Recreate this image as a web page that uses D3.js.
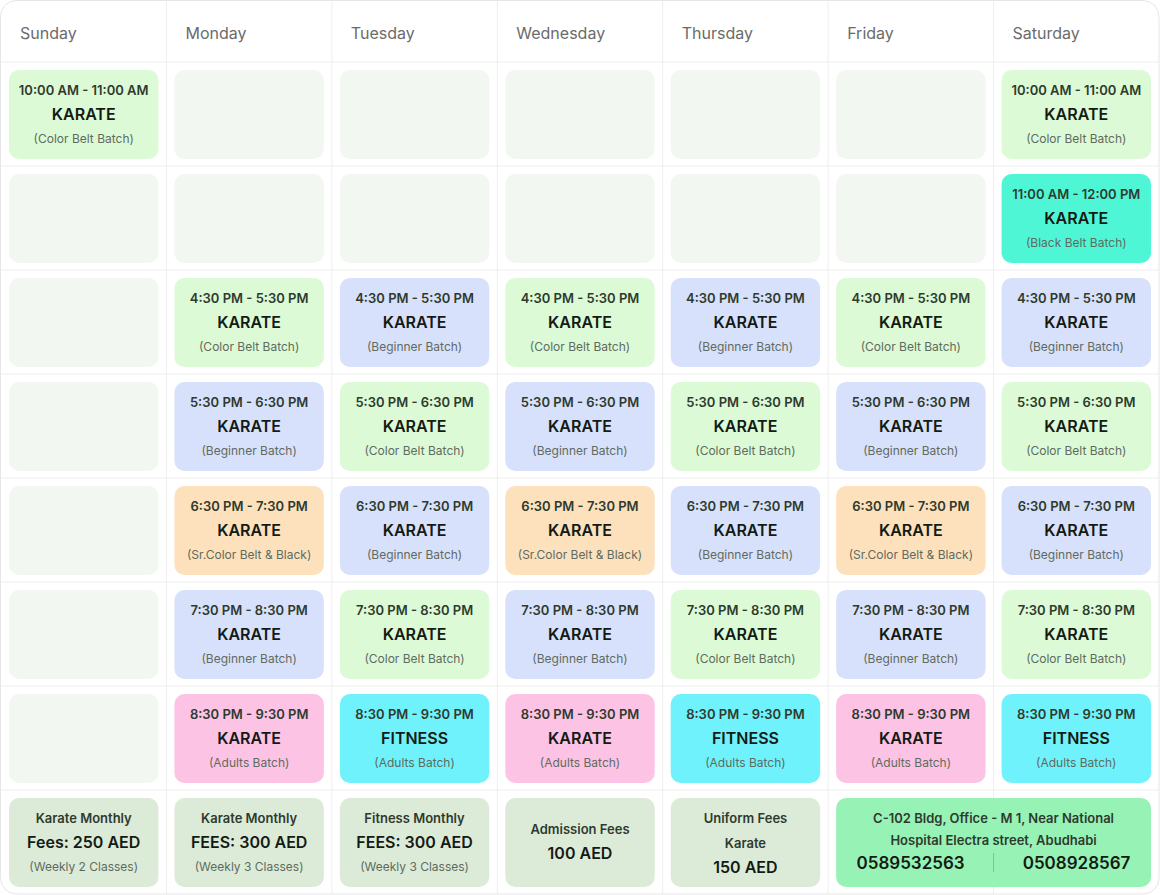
<!DOCTYPE html>
<html lang="en">
<head>
<meta charset="utf-8">
<title>Timetable</title>
<script src="https://d3js.org/d3.v7.min.js"></script>
<style>
  body { margin: 0; background: #fff; font-family: Inter, "Noto Sans", sans-serif; }
</style>
</head>
<body>
<script>
const days = ["Sunday", "Monday", "Tuesday", "Wednesday", "Thursday", "Friday", "Saturday"];
const times = ["10:00 AM - 11:00 AM", "11:00 AM - 12:00 PM", "4:30 PM - 5:30 PM", "5:30 PM - 6:30 PM",
               "6:30 PM - 7:30 PM", "7:30 PM - 8:30 PM", "8:30 PM - 9:30 PM"];
// class codes per time row, one per day; "" = no class
const schedule = [
  ["C", "", "", "", "", "", "C"],
  ["", "", "", "", "", "", "K"],
  ["", "C", "B", "C", "B", "C", "B"],
  ["", "B", "C", "B", "C", "B", "C"],
  ["", "S", "B", "S", "B", "S", "B"],
  ["", "B", "C", "B", "C", "B", "C"],
  ["", "A", "F", "A", "F", "A", "F"]
];
const classTypes = {
  C: {name: "KARATE", batch: "(Color Belt Batch)", fill: "#dcfad5"},
  K: {name: "KARATE", batch: "(Black Belt Batch)", fill: "#4ff6d6"},
  B: {name: "KARATE", batch: "(Beginner Batch)", fill: "#d8e1fb"},
  S: {name: "KARATE", batch: "(Sr.Color Belt & Black)", fill: "#fde1bd"},
  A: {name: "KARATE", batch: "(Adults Batch)", fill: "#fdc3e5"},
  F: {name: "FITNESS", batch: "(Adults Batch)", fill: "#6ff2fb"}
};
const fees = [
  {col: 0, lines: ["Karate Monthly", "Fees: 250 AED", "(Weekly 2 Classes)"]},
  {col: 1, lines: ["Karate Monthly", "FEES: 300 AED", "(Weekly 3 Classes)"]},
  {col: 2, lines: ["Fitness Monthly", "FEES: 300 AED", "(Weekly 3 Classes)"]},
  {col: 3, lines: ["Admission Fees", "100 AED"]},
  {col: 4, lines: ["Uniform Fees", "Karate", "150 AED"]}
];
const address = ["C-102 Bldg, Office - M 1, Near National", "Hospital Electra street, Abudhabi"];
const phones = ["0589532563", "0508928567"];

const W = 1160, H = 895, headH = 62, rowH = 104, pad = 8;
const x = d3.scaleBand().domain(d3.range(days.length)).range([1, 1159]);
const y = d3.scaleBand().domain(d3.range(times.length + 1)).range([headH, headH + rowH * 8]);

const svg = d3.select("body").append("svg").attr("width", W).attr("height", H);

svg.append("rect").attr("x", 0.5).attr("y", 0.5).attr("width", W - 1.5).attr("height", H - 1.5)
  .attr("rx", 16).attr("fill", "#fff").attr("stroke", "#e6e6e6");

const grid = svg.append("g").attr("stroke", "#eeeeee");
days.forEach((d, i) => {
  if (i > 0) grid.append("line").attr("x1", x(i)).attr("x2", x(i)).attr("y1", 1).attr("y2", H - 1);
});
y.domain().forEach(r => grid.append("line").attr("x1", 1).attr("x2", W - 1).attr("y1", y(r)).attr("y2", y(r)));

svg.selectAll(".day").data(days).join("text")
  .attr("x", (d, i) => x(i) + 19).attr("y", 39)
  .attr("font-size", 16).attr("fill", "#6b6b6b").text(d => d);

function box(col, row, span, fill) {
  const bx = x(col) + pad, by = y(row) + pad;
  const bw = x.bandwidth() * span - pad * 2, bh = y.bandwidth() - pad * 2 + 1;
  svg.append("rect").attr("x", bx).attr("y", by).attr("width", bw).attr("height", bh)
    .attr("rx", 10).attr("fill", fill);
  return {cx: bx + bw / 2, by, bh};
}

schedule.forEach((row, r) => {
  row.forEach((code, c) => {
    if (!code) { box(c, r, 1, "#f3f7f1"); return; }
    const t = classTypes[code];
    const b = box(c, r, 1, t.fill);
    const g = svg.append("g").attr("text-anchor", "middle");
    g.append("text").attr("x", b.cx).attr("y", b.by + 25).attr("font-size", 13).attr("font-weight", 600)
      .attr("fill", "#2e3a2e").text(times[r]);
    g.append("text").attr("x", b.cx).attr("y", b.by + 50).attr("font-size", 16).attr("font-weight", 600)
      .attr("fill", "#141a14").text(t.name);
    g.append("text").attr("x", b.cx).attr("y", b.by + 73).attr("font-size", 12)
      .attr("fill", "#5f6b5f").text(t.batch);
  });
});

const feeRow = times.length;
fees.forEach(f => {
  const b = box(f.col, feeRow, 1, "#dcebd8");
  const g = svg.append("g").attr("text-anchor", "middle");
  if (f.lines.length === 3) {
    const big = f.lines[1].includes("AED") ? 1 : 2;
    f.lines.forEach((l, i) => {
      const isBig = i === big, isSmall = i === 2 && big === 1;
      g.append("text").attr("x", b.cx).attr("y", b.by + [25, 50, 73][i] + (isBig && big === 2 ? 2 : 0))
        .attr("font-size", isBig ? 16 : isSmall ? 12 : 13)
        .attr("font-weight", isSmall ? 400 : 600)
        .attr("fill", isBig ? "#141a14" : isSmall ? "#5f6b5f" : "#2e3a2e").text(l);
    });
  } else {
    g.append("text").attr("x", b.cx).attr("y", b.by + 36).attr("font-size", 13).attr("font-weight", 600)
      .attr("fill", "#2e3a2e").text(f.lines[0]);
    g.append("text").attr("x", b.cx).attr("y", b.by + 61).attr("font-size", 16).attr("font-weight", 600)
      .attr("fill", "#141a14").text(f.lines[1]);
  }
});

const ab = box(5, feeRow, 2, "#97f2b5");
const ag = svg.append("g").attr("text-anchor", "middle");
address.forEach((l, i) => ag.append("text").attr("x", ab.cx).attr("y", ab.by + 25 + i * 22)
  .attr("font-size", 13).attr("font-weight", 600).attr("fill", "#2e3a2e").text(l));
ag.append("text").attr("x", ab.cx - 83).attr("y", ab.by + 71).attr("font-size", 17).attr("font-weight", 600)
  .attr("fill", "#141a14").text(phones[0]);
ag.append("text").attr("x", ab.cx + 83).attr("y", ab.by + 71).attr("font-size", 17).attr("font-weight", 600)
  .attr("fill", "#141a14").text(phones[1]);
svg.append("line").attr("x1", ab.cx).attr("x2", ab.cx).attr("y1", ab.by + 55).attr("y2", ab.by + 74)
  .attr("stroke", "#7fbf95");
</script>
</body>
</html>
